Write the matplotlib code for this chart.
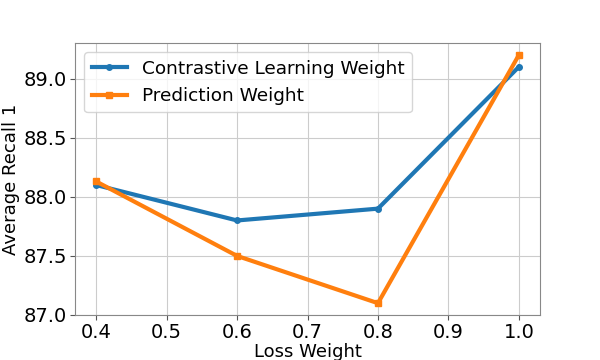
import matplotlib.pyplot as plt

loss_weight = [0.4, 0.6, 0.8, 1.0]
contrastive = [88.1, 87.8, 87.9, 89.1]
prediction = [88.13, 87.5, 87.1, 89.2]

plt.rcParams['font.size'] = 14

fig, ax = plt.subplots(figsize=(6, 3.6), dpi=100)
fig.subplots_adjust(left=0.125, right=0.9, top=0.88, bottom=0.125)

ax.plot(loss_weight, contrastive, marker='o', markersize=4, linewidth=3,
        color='#1f77b4', label='Contrastive Learning Weight')
ax.plot(loss_weight, prediction, marker='s', markersize=4, linewidth=3,
        color='#ff7f0e', label='Prediction Weight')

ax.set_ylim(87.0, 89.3)
ax.set_xticks([0.4, 0.5, 0.6, 0.7, 0.8, 0.9, 1.0])
ax.set_yticks([87.0, 87.5, 88.0, 88.5, 89.0])
ax.set_xlabel('Loss Weight', fontsize=13, labelpad=1)
ax.set_ylabel('Average Recall 1', fontsize=13, labelpad=3)
ax.grid(True, color='#cccccc')
for s in ax.spines.values():
    s.set_color('#888888')
ax.tick_params(color='#555555', pad=2)
ax.legend(loc='upper left', fontsize=13.3, handlelength=1.9)

fig.savefig('out.png')
